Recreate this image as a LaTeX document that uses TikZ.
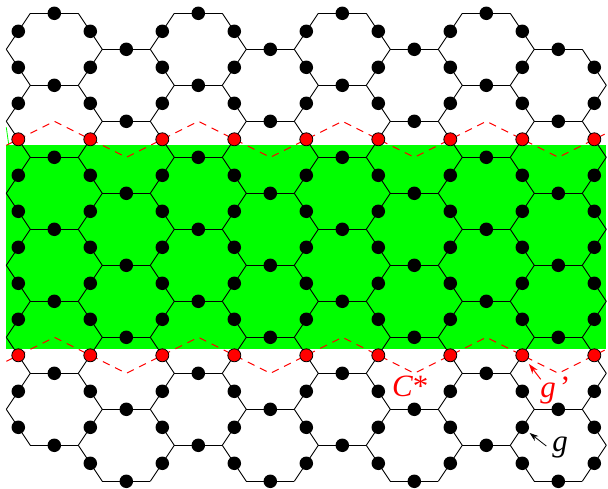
\documentclass[tikz,border=0pt]{standalone}
\usepackage{fontspec}
\setmainfont{Liberation Serif}
\usetikzlibrary{arrows.meta}
\definecolor{fieldgreen}{RGB}{0,255,0}
\tikzset{
  bond/.style={line width=0.9pt},
  site/.style={circle, fill=black, inner sep=0pt, minimum size=13.5pt},
  redsite/.style={circle, draw=black, line width=0.8pt, fill=red, inner sep=0pt, minimum size=13pt},
  cut/.style={red, line width=1pt, dash pattern=on 7.5pt off 6pt},
  tag/.style={inner sep=0pt, anchor=base, font=\fontsize{31}{31}\selectfont\itshape}
}
\begin{document}
\begin{tikzpicture}[x=1pt, y=-1pt]
\useasboundingbox (0,0) rectangle (608,489);
\fill[fieldgreen] (6.3,145.3) rectangle (606.3,349.3);
\draw[fieldgreen, line width=0.8pt] (6.3,127.3) -- (8.7,144.5);

\coordinate (zt0) at (6.3,145.3);
\coordinate (zb0) at (6.3,361.3);
\foreach \i in {1,...,8} {
  \pgfmathsetmacro\dy{mod(\i,2)==1 ? -18 : 18}
  \coordinate (zt\i) at ({54.3+72*(\i-1)},{139.3+\dy});
  \coordinate (zb\i) at ({54.3+72*(\i-1)},{355.3+\dy});
}
\coordinate (zt9) at (606.3,133.3);
\coordinate (zb9) at (606.3,349.3);
\draw[cut] (zt0) \foreach \i in {1,...,9} { -- (zt\i) };
\draw[cut] (zb0) \foreach \i in {1,...,9} { -- (zb\i) };

\foreach \b in {0,...,8} {
  \foreach \j in {0,...,13} {
    \pgfmathsetmacro\dx{mod(\b+\j,2)==0 ? 24 : 0}
    \coordinate (v\b-\j) at ({6.3+72*\b+\dx},{13.3+36*\j});
  }
}

% flat bonds
\foreach \c in {0,...,7} {
  \pgfmathtruncatemacro\nxt{\c+1}
  \pgfmathtruncatemacro\first{mod(\c,2)}
  \pgfmathtruncatemacro\second{\first+2}
  \foreach \j in {\first,\second,...,13} {
    \draw[bond] (v\c-\j) -- (v\nxt-\j) node[midway, site] (f\c-\j) {};
  }
}

% slanted bonds
\foreach \b in {0,...,8} {
  \pgfmathtruncatemacro\first{\b==8 ? 1 : 0}
  \pgfmathtruncatemacro\last{\b==0 ? 11 : 12}
  \foreach \j in {\first,...,\last} {
    \pgfmathtruncatemacro\nxt{\j+1}
    \pgfmathtruncatemacro\isred{(\j==3 || \j==9) ? 1 : 0}
    \ifnum\isred=1
      \draw[bond] (v\b-\j) -- (v\b-\nxt) node[midway, redsite] (d\b-\j) {};
    \else
      \draw[bond] (v\b-\j) -- (v\b-\nxt) node[midway, site] (d\b-\j) {};
    \fi
  }
}

\node[tag, text=red, anchor=base west] (cstar) at (392,396) {C{\upshape *}};
\node[tag, text=red] (gprime) at (548,397) {g};
\node[tag, text=red, anchor=base west] (prime) at (560,397) {\upshape '};
\node[tag] (glabel) at (560,451) {g};

\coordinate (gprimefoot) at (540.7,379.3);
\coordinate (gfoot) at (546.3,446);
\draw[red, line width=1pt, -{Stealth[length=10pt,width=6.5pt]}, shorten >=4pt] (gprimefoot) -- (d7-9);
\draw[line width=0.8pt, -{Stealth[length=9pt,width=6pt]}, shorten >=2pt] (gfoot) -- (d7-11);
\end{tikzpicture}
\end{document}
